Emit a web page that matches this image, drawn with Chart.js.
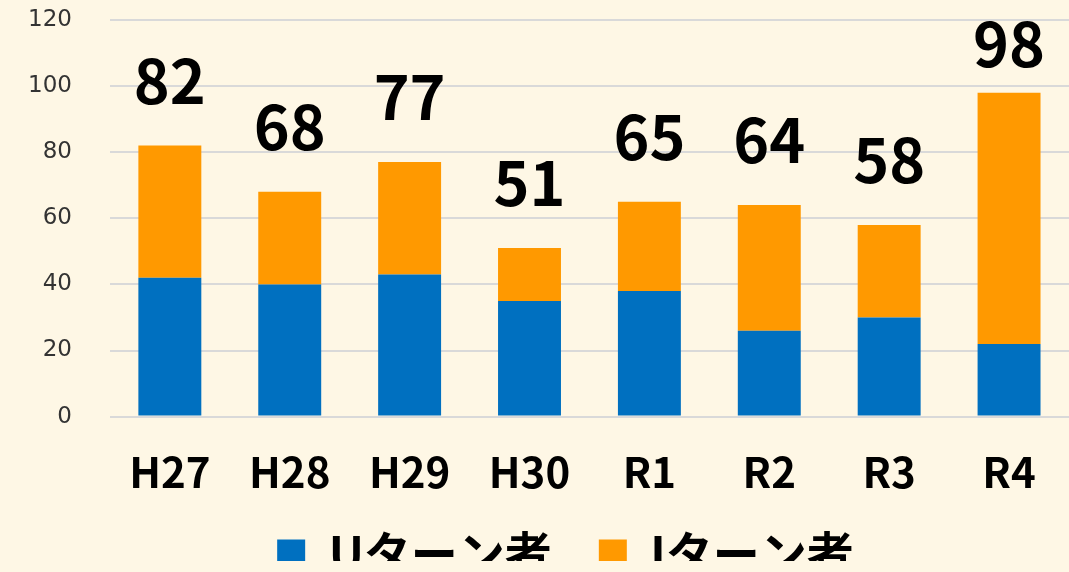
<!DOCTYPE html>
<html lang="ja">
<head>
    <meta charset="UTF-8">
    <title>Uターン者・Iターン者の推移</title>
    <script src="https://cdn.jsdelivr.net/npm/chart.js"></script>
    <style>
        html, body { margin: 0; padding: 0; background: #fef7e5; }
        .chart-container { position: relative; width: 1069px; height: 572px; }
    </style>
</head>
<body>
    <div class="chart-container">
        <canvas id="turnChart"></canvas>
    </div>

    <script>
        // Data
        const years = ['H27', 'H28', 'H29', 'H30', 'R1', 'R2', 'R3', 'R4'];
        const uTurn = [42, 40, 43, 35, 38, 26, 30, 22];
        const iTurn = [40, 28, 34, 16, 27, 38, 28, 76];
        const yTicks = [0, 20, 40, 60, 80, 100, 120];

        const FONT = "'Noto Sans CJK JP', 'Noto Sans', sans-serif";

        // Draws the stack totals above each bar
        const totalLabels = {
            id: 'totalLabels',
            afterDatasetsDraw(chart) {
                const ctx = chart.ctx;
                const top = chart.chartArea.top;
                const y = chart.scales.y;
                const meta = chart.getDatasetMeta(1);
                ctx.save();
                ctx.font = 'bold 61px ' + FONT;
                ctx.fillStyle = '#000';
                ctx.textAlign = 'center';
                ctx.textBaseline = 'alphabetic';
                meta.data.forEach(function(bar, i) {
                    const total = uTurn[i] + iTurn[i];
                    const barTop = y.getPixelForValue(total);
                    const base = Math.max(barTop - 42, top + 47);
                    ctx.fillText(String(total), bar.x, base);
                });
                ctx.restore();
            }
        };

        // Legend: fixed height and a small shift so it sits like the original
        const legendPlace = {
            id: 'legendPlace',
            beforeInit(chart) {
                const legend = chart.legend;
                const fit = legend.fit;
                legend.fit = function() {
                    fit.call(this);
                    this.height = 78;
                };
                const draw = legend.draw;
                legend.draw = function() {
                    const ctx = this.ctx;
                    ctx.save();
                    ctx.translate(19, -44);
                    draw.apply(this, arguments);
                    ctx.restore();
                };
            }
        };

        const data = {
            labels: years,
            datasets: [
                {
                    label: 'Uターン者',
                    data: uTurn,
                    backgroundColor: '#0070c0'
                },
                {
                    label: 'Iターン者',
                    data: iTurn,
                    backgroundColor: '#ff9900'
                }
            ]
        };

        const config = {
            type: 'bar',
            data: data,
            options: {
                responsive: true,
                maintainAspectRatio: false,
                animation: false,
                datasets: {
                    bar: { categoryPercentage: 1, barPercentage: 0.525 }
                },
                layout: { padding: { top: 20, right: 0, bottom: -33, left: 24 } },
                scales: {
                    x: {
                        stacked: true,
                        grid: { display: false, drawTicks: false },
                        border: { display: false },
                        ticks: {
                            color: '#000',
                            padding: 30,
                            font: { family: FONT, size: 42, weight: 'bold' }
                        }
                    },
                    y: {
                        stacked: true,
                        min: 0,
                        max: 120,
                        afterBuildTicks(axis) {
                            axis.ticks = yTicks.map(function(v) { return { value: v }; });
                        },
                        grid: {
                            color: '#d9d9d9',
                            lineWidth: 2,
                            drawTicks: true,
                            tickLength: 34,
                            tickColor: 'rgba(0,0,0,0)'
                        },
                        border: { display: false },
                        ticks: {
                            color: '#333',
                            padding: 4,
                            font: { family: "'DejaVu Sans', sans-serif", size: 23 }
                        }
                    }
                },
                plugins: {
                    tooltip: { enabled: false },
                    legend: {
                        position: 'bottom',
                        labels: {
                            color: '#000',
                            boxWidth: 28,
                            boxHeight: 28,
                            padding: 47,
                            font: { family: FONT, size: 47, weight: 'bold', lineHeight: 1 }
                        }
                    }
                }
            },
            plugins: [totalLabels, legendPlace]
        };

        new Chart(document.getElementById('turnChart'), config);
    </script>
</body>
</html>
